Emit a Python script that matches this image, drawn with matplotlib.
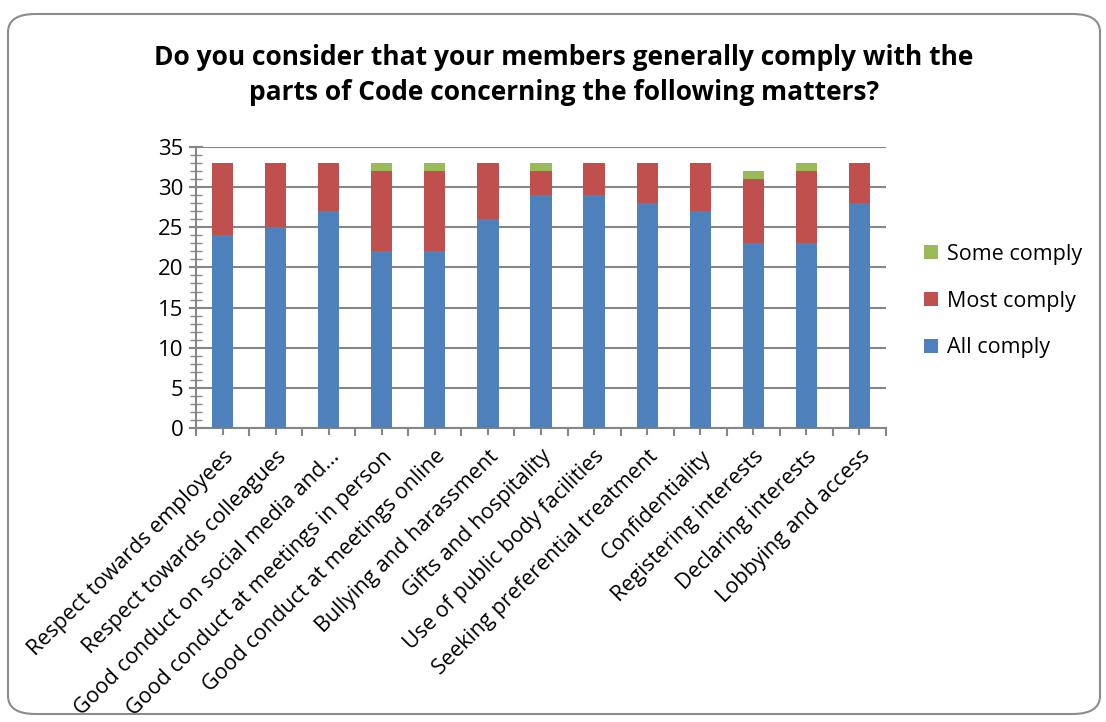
import numpy as np
import matplotlib.pyplot as plt
from matplotlib.patches import FancyBboxPatch
from matplotlib.ticker import MultipleLocator, FixedLocator

plt.rcParams['font.family'] = ['Open Sans', 'DejaVu Sans']

# data
categories = [
    "Respect towards employees",
    "Respect towards colleagues",
    "Good conduct on social media and...",
    "Good conduct at meetings in person",
    "Good conduct at meetings online",
    "Bullying and harassment",
    "Gifts and hospitality",
    "Use of public body facilities",
    "Seeking preferential treatment",
    "Confidentiality",
    "Registering interests",
    "Declaring interests",
    "Lobbying and access",
]
all_comply = [24, 25, 27, 22, 22, 26, 29, 29, 28, 27, 23, 23, 28]
most_comply = [9, 8, 6, 10, 10, 7, 3, 4, 5, 6, 8, 9, 5]
some_comply = [0, 0, 0, 1, 1, 0, 1, 0, 0, 0, 1, 1, 0]

blue = "#4F81BD"
red = "#C0504D"
green = "#9BBB59"
grid_col = "#868686"

fig = plt.figure(figsize=(11.06, 7.22), dpi=100)

# rounded chart frame
frame = FancyBboxPatch((8 / 1106, 8 / 722), 1092 / 1106, 700 / 722,
                       boxstyle="round,pad=0,rounding_size=0.025",
                       transform=fig.transFigure, fc="white", ec="#8C8C8C",
                       lw=1.5, zorder=-5)
fig.patches.append(frame)

ax = fig.add_axes([196 / 1106, 1 - 428 / 722, 690 / 1106, 281 / 722])
ax.set_facecolor("none")

x = np.arange(len(categories))
w = 0.4
b1 = ax.bar(x, all_comply, w, color=blue, label="All comply", zorder=3)
bottom2 = np.array(all_comply)
b2 = ax.bar(x, most_comply, w, bottom=bottom2, color=red, label="Most comply", zorder=3)
bottom3 = bottom2 + np.array(most_comply)
b3 = ax.bar(x, some_comply, w, bottom=bottom3, color=green, label="Some comply", zorder=3)

ax.set_xlim(-0.5, len(categories) - 0.5)
ax.set_ylim(0, 35)
ax.yaxis.set_major_locator(MultipleLocator(5))
ax.yaxis.set_minor_locator(MultipleLocator(1))
ax.grid(axis="y", which="major", color=grid_col, lw=1.5, zorder=0)

for s in ["top", "right"]:
    ax.spines[s].set_visible(False)
for s in ["left", "bottom"]:
    ax.spines[s].set_color(grid_col)
    ax.spines[s].set_linewidth(1.5)

ax.tick_params(axis="y", which="major", direction="inout", length=10, width=1.5,
               color=grid_col, labelsize=16, pad=4)
ax.tick_params(axis="y", which="minor", direction="inout", length=8, width=1.0,
               color=grid_col)

ax.set_xticks(x)
ax.set_xticklabels(categories, rotation=45, ha="right", rotation_mode="anchor",
                   fontsize=15.5)
ax.xaxis.set_minor_locator(FixedLocator(np.arange(-0.5, len(categories), 1.0)))
ax.tick_params(axis="x", which="major", direction="inout", length=10, width=1.5,
               color=grid_col, pad=8)
ax.tick_params(axis="x", which="minor", direction="out", length=6, width=1.5,
               color=grid_col)

fig.text(564 / 1106, 1 - 75 / 722,
         "Do you consider that your members generally comply with the\nparts of Code concerning the following matters?",
         ha="center", va="center", fontsize=19, fontweight="bold",
         linespacing=1.35)

leg = fig.legend(handles=[b3, b2, b1], labels=["Some comply", "Most comply", "All comply"],
                 loc="center left", bbox_to_anchor=(905 / 1106, 1 - 301 / 722),
                 frameon=False, fontsize=15.5, handlelength=0.65, handleheight=0.65,
                 handletextpad=0.4, labelspacing=1.2)

fig.savefig("out.png", dpi=100)
